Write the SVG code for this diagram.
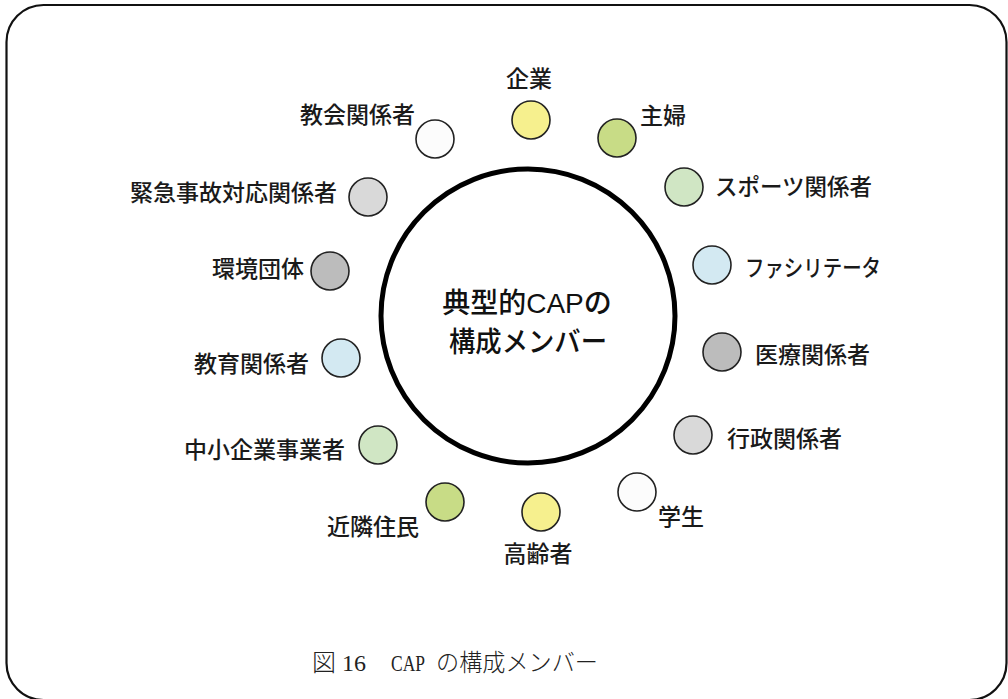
<svg xmlns="http://www.w3.org/2000/svg" width="1008" height="699" viewBox="0 0 1008 699">
<style>
.frame{fill:#fff;stroke:#111;stroke-width:2.2}
.big{fill:#fff;stroke:#000;stroke-width:5}
.n{stroke:#222;stroke-width:1.6}
.lbl{font-family:"Noto Sans CJK JP","Liberation Sans",sans-serif;font-size:23px;font-weight:500;fill:#1a1a1a;dominant-baseline:central}
.ctr{font-family:"Liberation Sans","Noto Sans CJK JP",sans-serif;font-size:28px;font-weight:500;fill:#111;dominant-baseline:central;text-anchor:middle}
.cap{font-family:"Liberation Serif","Noto Sans CJK JP",serif;font-size:24px;fill:#222;font-weight:300;dominant-baseline:central}
.yel{fill:#f6f08e}.ygr{fill:#c8dc86}.lgr{fill:#d0e6c4}.lbl2{fill:#d3e9f2}.gry{fill:#bcbcbc}.lgy{fill:#d9d9d9}.wht{fill:#fcfcfc}
</style>
<rect class="frame" x="6.5" y="5" width="1000" height="695" rx="37"/>
<g id="connectors"></g>
<g id="center">
<circle class="big" cx="528" cy="316" r="147"/>
<text class="ctr" x="527" y="303">典型的CAPの</text>
<text class="ctr" x="528" y="342" textLength="158" lengthAdjust="spacingAndGlyphs">構成メンバー</text>
</g>
<g id="n-kigyo"><circle class="n yel" cx="531" cy="120" r="19"/><text class="lbl" x="529" y="77" text-anchor="middle">企業</text></g>
<g id="n-shufu"><circle class="n ygr" cx="617" cy="138" r="19"/><text class="lbl" x="640" y="114">主婦</text></g>
<g id="n-sports"><circle class="n lgr" cx="684" cy="187" r="19"/><text class="lbl" x="715" y="185" textLength="157" lengthAdjust="spacingAndGlyphs">スポーツ関係者</text></g>
<g id="n-facil"><circle class="n lbl2" cx="712" cy="265" r="19"/><text class="lbl" x="745" y="266" textLength="136" lengthAdjust="spacingAndGlyphs">ファシリテータ</text></g>
<g id="n-iryo"><circle class="n gry" cx="722" cy="352" r="19"/><text class="lbl" x="755" y="353">医療関係者</text></g>
<g id="n-gyosei"><circle class="n lgy" cx="693" cy="435" r="19"/><text class="lbl" x="727" y="437">行政関係者</text></g>
<g id="n-gakusei"><circle class="n wht" cx="637" cy="492" r="19"/><text class="lbl" x="658" y="515">学生</text></g>
<g id="n-koreisha"><circle class="n yel" cx="541" cy="512" r="19"/><text class="lbl" x="538" y="552" text-anchor="middle">高齢者</text></g>
<g id="n-kinrin"><circle class="n ygr" cx="445" cy="502" r="19"/><text class="lbl" x="419" y="525" text-anchor="end">近隣住民</text></g>
<g id="n-chusho"><circle class="n lgr" cx="378" cy="445" r="19"/><text class="lbl" x="345" y="448" text-anchor="end">中小企業事業者</text></g>
<g id="n-kyoiku"><circle class="n lbl2" cx="341" cy="358" r="19"/><text class="lbl" x="309" y="362" text-anchor="end">教育関係者</text></g>
<g id="n-kankyo"><circle class="n gry" cx="330" cy="271" r="19"/><text class="lbl" x="304" y="267" text-anchor="end">環境団体</text></g>
<g id="n-kinkyu"><circle class="n lgy" cx="368" cy="197" r="19"/><text class="lbl" x="337" y="191" text-anchor="end">緊急事故対応関係者</text></g>
<g id="n-kyokai"><circle class="n wht" cx="435" cy="139" r="19"/><text class="lbl" x="415" y="113" text-anchor="end">教会関係者</text></g>
<g id="caption">
<text class="cap" x="312" y="663">図 16<tspan x="391" textLength="34" lengthAdjust="spacingAndGlyphs">CAP</tspan><tspan x="436" textLength="162" lengthAdjust="spacingAndGlyphs">の構成メンバー</tspan></text>
</g>
</svg>
